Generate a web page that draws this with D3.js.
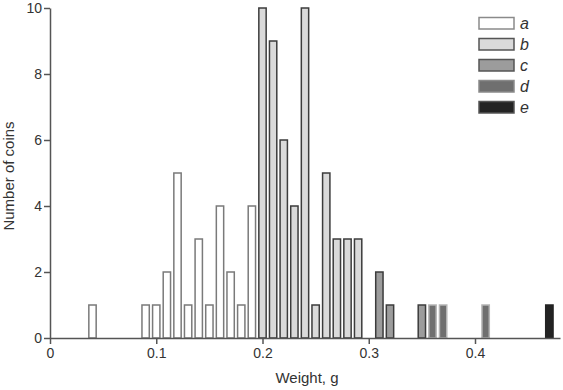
<!DOCTYPE html>
<html>
<head>
<meta charset="utf-8">
<script src="https://cdn.jsdelivr.net/npm/d3@7"></script>
<style>
body { margin: 0; background: #fff; }
svg text { font-family: "Liberation Sans", Arial, sans-serif; fill: #333; }
</style>
</head>
<body>
<div id="chart"></div>
<script>
const w = 563;
const h = 390;

// bin centre (g), number of coins, group
const weights = [0.04, 0.09, 0.10, 0.11, 0.12, 0.13, 0.14, 0.15, 0.16, 0.17, 0.18, 0.19,
    0.20, 0.21, 0.22, 0.23, 0.24, 0.25, 0.26, 0.27, 0.28, 0.29,
    0.31, 0.32, 0.35, 0.36, 0.37, 0.41, 0.47];
const counts = [1, 1, 1, 2, 5, 1, 3, 1, 4, 2, 1, 4,
    10, 9, 6, 4, 10, 1, 5, 3, 3, 3,
    2, 1, 1, 1, 1, 1, 1];
const groups = ["a", "a", "a", "a", "a", "a", "a", "a", "a", "a", "a", "a",
    "b", "b", "b", "b", "b", "b", "b", "b", "b", "b",
    "c", "c", "c", "d", "d", "d", "e"];

const legendKeys = ["a", "b", "c", "d", "e"];
const xTicks = [0, 0.1, 0.2, 0.3, 0.4];
const yTicks = [0, 2, 4, 6, 8, 10];

const fills = { a: "#ffffff", b: "#dadada", c: "#9c9c9c", d: "#6f6f6f", e: "#232323" };
const strokes = { a: "#7a7a7a", b: "#3c3c3c", c: "#3c3c3c", d: "#b5b5b5", e: "#232323" };

const margin = { left: 50, right: 3, top: 8, bottom: 52 };

const x = d3.scaleLinear()
    .domain([0, 0.48])
    .range([margin.left, w - margin.right]);

const y = d3.scaleLinear()
    .domain([0, 10])
    .range([h - margin.bottom, margin.top]);

const svg = d3.select("#chart")
    .append("svg")
    .attr("width", w)
    .attr("height", h);

const barW = x(0.0069) - x(0);

svg.selectAll("rect.bar")
    .data(weights)
    .enter()
    .append("rect")
    .attr("class", "bar")
    .attr("x", function(d) { return x(d) - barW / 2; })
    .attr("y", function(d, i) { return y(counts[i]); })
    .attr("width", barW)
    .attr("height", function(d, i) { return y(0) - y(counts[i]); })
    .attr("fill", function(d, i) { return fills[groups[i]]; })
    .attr("stroke", function(d, i) { return strokes[groups[i]]; })
    .attr("stroke-width", 1.5);

var xAxis = svg.append("g")
    .attr("transform", "translate(0," + y(0) + ")")
    .call(d3.axisBottom(x).tickValues(xTicks).tickSize(6).tickSizeOuter(0)
        .tickFormat(function(d) { return d === 0 ? "0" : d3.format(".1f")(d); }));

var yAxis = svg.append("g")
    .attr("transform", "translate(" + x(0) + ",0)")
    .call(d3.axisLeft(y).tickValues(yTicks).tickSize(6).tickSizeOuter(0));

[xAxis, yAxis].forEach(function(g) {
    g.select(".domain").attr("stroke", "#555").attr("stroke-width", 1.5);
    g.selectAll(".tick line").attr("stroke", "#555").attr("stroke-width", 1.5);
    g.selectAll(".tick text").attr("font-size", 14).attr("fill", "#333")
        .attr("font-family", "Liberation Sans, Arial, sans-serif");
});
xAxis.selectAll(".tick text").attr("y", 10);
yAxis.selectAll(".tick text").attr("x", -8);

svg.append("text")
    .attr("x", 307)
    .attr("y", 383)
    .attr("text-anchor", "middle")
    .attr("font-size", 15)
    .text("Weight, g");

svg.append("text")
    .attr("transform", "translate(14,176) rotate(-90)")
    .attr("text-anchor", "middle")
    .attr("font-size", 15)
    .text("Number of coins");

// legend
var legend = svg.selectAll("g.legend")
    .data(legendKeys)
    .enter()
    .append("g")
    .attr("class", "legend")
    .attr("transform", function(d, i) { return "translate(479," + (17.5 + i * 21) + ")"; });

legend.append("rect")
    .attr("width", 35)
    .attr("height", 11.5)
    .attr("fill", function(d) { return fills[d]; })
    .attr("stroke", function(d) { return d === "a" || d === "d" ? "#8a8a8a" : "#555"; })
    .attr("stroke-width", 1.5);

legend.append("text")
    .attr("x", 41)
    .attr("y", 11)
    .attr("font-size", 16)
    .attr("font-style", "italic")
    .attr("fill", "#222")
    .text(function(d) { return d; });
</script>
</body>
</html>
